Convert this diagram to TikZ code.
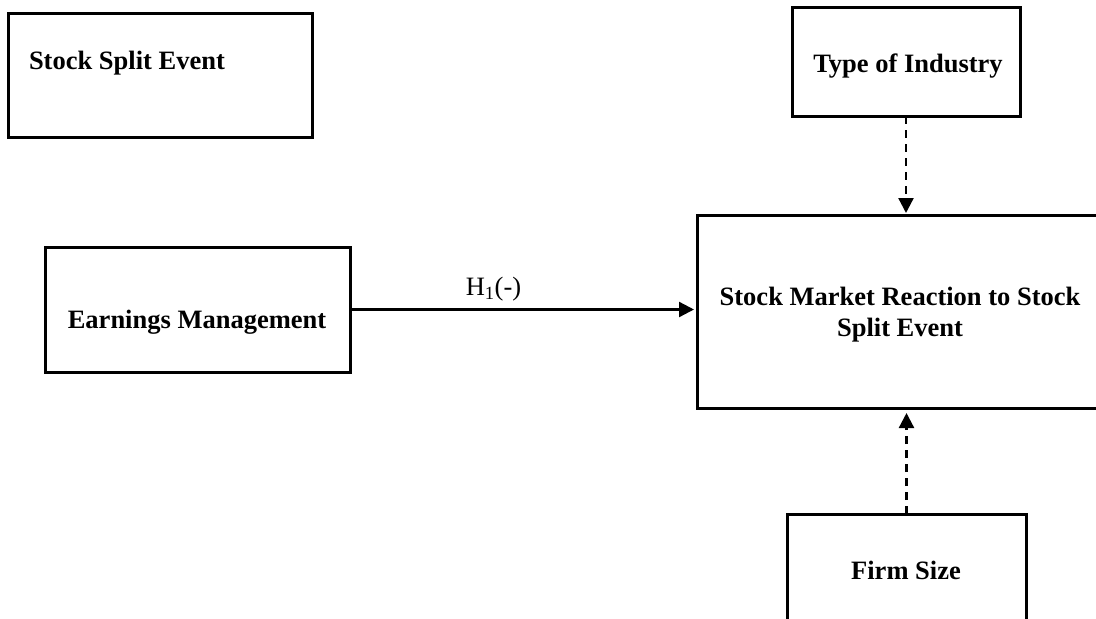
\documentclass[tikz,border=0pt]{standalone}
\usepackage{fontspec}
\setmainfont{Liberation Serif}
\usetikzlibrary{arrows.meta}
\begin{document}
\begin{tikzpicture}[x=1pt,y=-1pt,
  box/.style={draw=black,line width=3pt,rectangle,inner sep=0pt,outer sep=0pt},
  lbl/.style={inner sep=0pt,outer sep=0pt,font=\fontsize{26.5}{31}\selectfont\bfseries},
  rel/.style={line width=2.3pt,-{Triangle[length=15pt,width=15pt]}},
  mod/.style={rel,dash pattern=on 8pt off 6pt}]
\useasboundingbox (0,0) rectangle (1096,619);
\clip (0,0) rectangle (1096,619);
% boxes
\node[box,minimum width=304pt,minimum height=124pt] (ssb) at (160,75) {};
\node[box,minimum width=228pt,minimum height=109pt] (toi) at (906,61.5) {};
\node[box,minimum width=413pt,minimum height=193pt] (smr) at (903.5,311.5) {};
\node[box,minimum width=305pt,minimum height=125pt] (em) at (197.5,309.5) {};
\node[box,minimum width=239pt,minimum height=126pt] (fs) at (906.5,577) {};
% texts
\node[lbl,anchor=base west] (tssb) at (29,69) {Stock Split Event};
\node[lbl,anchor=base] (ttoi) at (908,72) {Type of Industry};
\node[lbl,align=center] (tsmr) at (900,315) {Stock Market Reaction to Stock\\Split Event};
\node[lbl,anchor=base] (tem) at (197,328) {Earnings Management};
\node[lbl,anchor=base] (tfs) at (906,579) {Firm Size};
% connectors
\draw[rel,shorten >=3pt] (em.east) -- node[above=7pt,inner sep=0pt,font=\fontsize{26.5}{31}\selectfont,xshift=-30pt] (h1) {H\textsubscript{1}(-)} (em.east -| smr.west);
\draw[mod,shorten >=2pt] (toi.south) -- (toi.south |- smr.north);
\draw[mod,shorten >=5pt] (fs.north) -- (fs.north |- smr.south);
\end{tikzpicture}
\end{document}
